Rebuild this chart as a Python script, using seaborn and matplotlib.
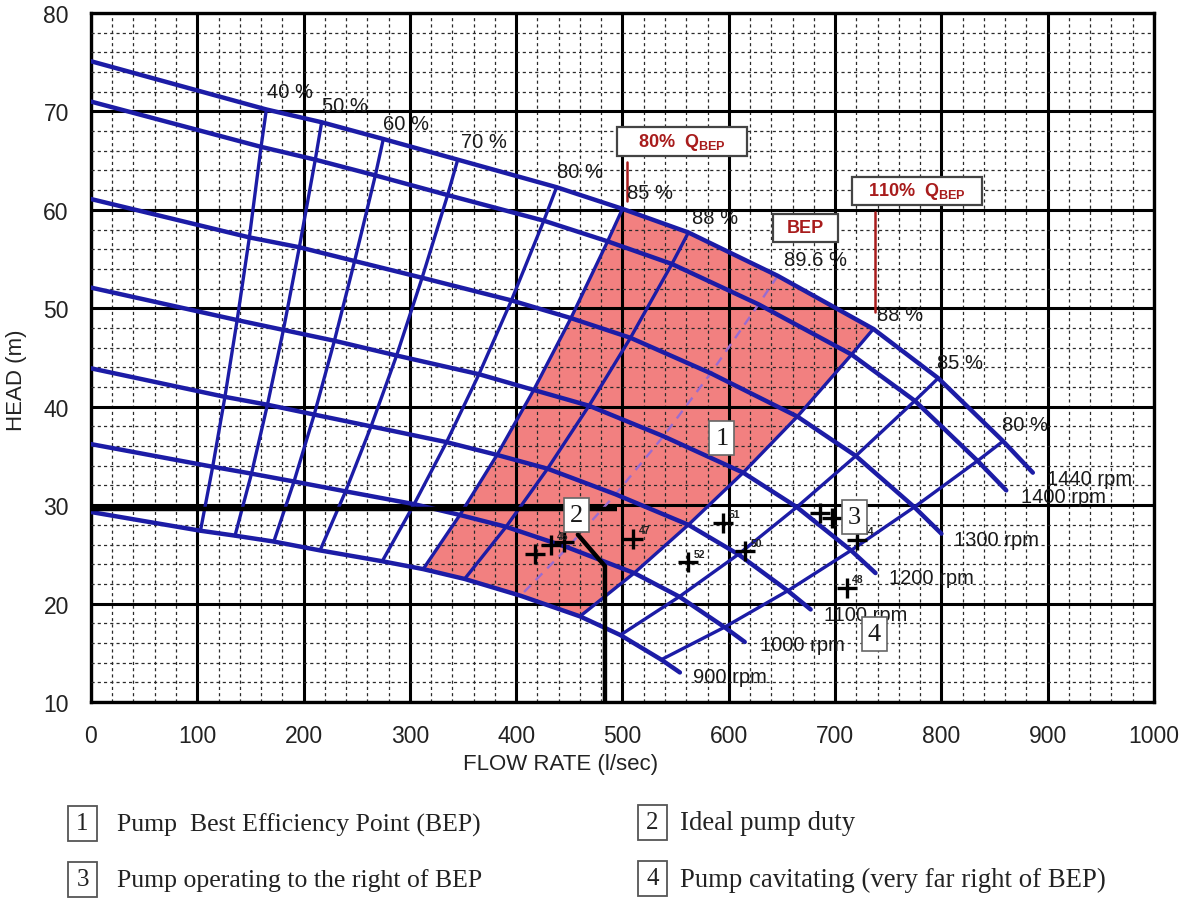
import numpy as np
import pandas as pd
import matplotlib
matplotlib.use("Agg")
import matplotlib.pyplot as plt
from matplotlib.patches import Rectangle
import seaborn as sns

# ---------------- data ----------------
speeds = [1440, 1400, 1300, 1200, 1100, 1000, 900]
shutoff_h = [75.1, 71.0, 61.1, 52.1, 43.9, 36.2, 29.3]
end_q = [886, 861, 800, 738, 677, 615, 554]
end_h = [33.3, 31.5, 27.1, 23.1, 19.4, 16.1, 13.0]

eff_names = ['40 %', '50 %', '60 %', '70 %', '80 %', '85 %', '88 %',
             '89.6 %', '88 %', '85 %', '80 %']
# flow at the crossing of each efficiency line with each speed curve (1440 -> 900 rpm)
iso_q = [
    [165, 160, 149, 137.5, 126, 114.5, 103],
    [217, 211, 196, 181, 166, 151, 135.5],
    [275, 267.5, 248, 229, 210, 191, 172],
    [345, 335.5, 311.5, 287.5, 263.5, 239.5, 215.5],
    [438, 426, 395.5, 365, 334.5, 304, 274],
    [500, 486, 451.5, 416.5, 382, 347, 312.5],
    [562, 546.5, 507.5, 468.5, 429.5, 390.5, 351.5],
    [646, 628, 583, 538.5, 493.5, 448.5, 404],
    [736, 715.5, 664.5, 613.5, 562, 511, 460],
    [797, 775, 719.5, 664, 609, 553.5, 498],
    [858, 834, 774.5, 715, 655.5, 596, 536.5],
]
iso_h = [
    [70.2, 66.4, 57.2, 48.8, 41.0, 33.9, 27.4],
    [68.9, 65.1, 56.2, 47.8, 40.2, 33.2, 26.9],
    [67.2, 63.5, 54.8, 46.7, 39.2, 32.4, 26.3],
    [65.1, 61.5, 53.1, 45.2, 38.0, 31.4, 25.4],
    [62.3, 58.9, 50.8, 43.3, 36.4, 30.1, 24.3],
    [60.1, 56.8, 49.0, 41.7, 35.1, 29.0, 23.5],
    [57.7, 54.5, 47.0, 40.1, 33.7, 27.8, 22.5],
    [53.3, 50.4, 43.4, 37.0, 31.1, 25.7, 20.8],
    [47.9, 45.3, 39.0, 33.3, 28.0, 23.1, 18.7],
    [42.9, 40.6, 35.0, 29.8, 25.0, 20.7, 16.8],
    [36.5, 34.5, 29.8, 25.4, 21.3, 17.6, 14.3],
]
# efficiency label anchors
eff_lab_q = [166, 217, 275, 348, 438, 504, 565, 652, 739, 796, 857]
eff_lab_h = [72.0, 70.6, 68.8, 66.9, 63.9, 61.8, 59.2, 55.0, 49.4, 44.5, 38.2]
rpm_labels = ['1440 rpm', '1400 rpm', '1300 rpm', '1200 rpm', '1100 rpm', '1000 rpm', '900 rpm']
rpm_lab_q = [899, 875, 812, 751, 690, 629, 566]
rpm_lab_h = [32.7, 30.9, 26.5, 22.6, 18.9, 15.8, 12.6]

# measured operating points
pt_q = [418, 433, 445, 510, 562, 595, 615, 686, 697, 721, 711]
pt_h = [25.0, 26.0, 26.3, 26.6, 24.2, 28.2, 25.3, 29.2, 28.7, 26.5, 21.6]
pt_lab = ['', '45', '', '47', '52', '51', '50', '', '', '44', '48']

# ideal duty lines
duty_hq = [0, 495]
duty_hh = [29.6, 29.6]
duty_vq = [458, 483.5, 483.5]
duty_vh = [27.0, 23.8, 10.0]

# Q_BEP markers
q80_bep = 504
q80_h = [60.9, 64.9]
q110_bep = 737.5
q110_h = [49.6, 59.8]

box_labels = ['1', '2', '3', '4']
box_q = [593.5, 457, 718, 737]
box_h = [36.8, 29.0, 28.8, 16.9]

legend_texts = ['Pump  Best Efficiency Point (BEP)', 'Ideal pump duty',
                'Pump operating to the right of BEP',
                'Pump cavitating (very far right of BEP)']

# ---------------- style ----------------
sns.set_style("white")
plt.rcParams['font.family'] = ['Liberation Sans', 'DejaVu Sans']
plt.rcParams['mathtext.fontset'] = 'custom'
plt.rcParams['mathtext.rm'] = 'Liberation Sans:bold'
plt.rcParams['mathtext.bf'] = 'Liberation Sans:bold'

BLUE = '#1c1ca6'
DARKRED = '#a81c1c'
TXT = '#1a1a1a'

fig = plt.figure(figsize=(11.83, 9.03), dpi=100)
ax = fig.add_axes([0.0769, 0.2215, 0.8986, 0.763])

# speed curves (long-form data)
rows = []
for j, n in enumerate(speeds):
    qs = [0] + [iso_q[i][j] for i in range(len(iso_q))] + [end_q[j]]
    hs = [shutoff_h[j]] + [iso_h[i][j] for i in range(len(iso_h))] + [end_h[j]]
    for k, (q, h) in enumerate(zip(qs, hs)):
        rows.append(dict(rpm=n, order=k, Q=q, H=h))
df_speed = pd.DataFrame(rows)

rows = []
for i in range(len(iso_q)):
    for j in range(len(speeds)):
        rows.append(dict(line=i, Q=iso_q[i][j], H=iso_h[i][j]))
df_iso = pd.DataFrame(rows)

# red BEP region: between 85% (left) and 88% (right) lines
poly = []
for j in reversed(range(len(speeds))):
    poly.append((iso_q[5][j], iso_h[5][j]))
for i in (6, 7):
    poly.append((iso_q[i][0], iso_h[i][0]))
for j in range(len(speeds)):
    poly.append((iso_q[8][j], iso_h[8][j]))
for i in (7, 6):
    poly.append((iso_q[i][-1], iso_h[i][-1]))
pq, ph = zip(*poly)
ax.fill(pq, ph, color='#f06a6a', alpha=0.85, zorder=1, lw=0)

sns.lineplot(data=df_iso[df_iso.line != 7], x='Q', y='H', units='line',
             estimator=None, sort=False, color=BLUE, linewidth=2.4,
             ax=ax, legend=False, zorder=3)
sns.lineplot(data=df_iso[df_iso.line == 7], x='Q', y='H', units='line',
             estimator=None, sort=False, color='#9a6cd0', linewidth=1.7,
             linestyle=(0, (4, 3)), ax=ax, legend=False, zorder=3)
sns.lineplot(data=df_speed, x='Q', y='H', units='rpm', estimator=None,
             sort=False, color=BLUE, linewidth=3.2, ax=ax, legend=False, zorder=4)

# duty lines
ax.plot(duty_hq, duty_hh, color='black', lw=3.2, zorder=5, solid_capstyle='butt')
ax.plot(duty_vq, duty_vh, color='black', lw=3.2, zorder=5, solid_joinstyle='miter')

# Q_BEP red markers
ax.plot([q80_bep, q80_bep], q80_h, color=DARKRED, lw=1.8, zorder=5)
ax.plot([q110_bep, q110_bep], q110_h, color=DARKRED, lw=1.8, zorder=5)

# operating points
ax.plot(pt_q, pt_h, linestyle='none', marker='+', markersize=14, mew=2.4,
        color='black', zorder=6)
for q, h, t in zip(pt_q, pt_h, pt_lab):
    if t:
        ax.annotate(t, (q, h), xytext=(4, 4), textcoords='offset points',
                    fontsize=7.5, fontweight='bold', color='#222222', zorder=6)

# labels
for q, h, t in zip(eff_lab_q, eff_lab_h, eff_names):
    ax.text(q, h, t, fontsize=14.5, ha='left', va='center', color=TXT, zorder=6)
for q, h, t in zip(rpm_lab_q, rpm_lab_h, rpm_labels):
    ax.text(q, h, t, fontsize=14.5, ha='left', va='center', color=TXT, zorder=6)

for q, h, t in zip(box_q, box_h, box_labels):
    ax.text(q, h, t, fontsize=19, family='Liberation Serif', ha='center', va='center',
            color=TXT, zorder=7,
            bbox=dict(boxstyle='square,pad=0.22', fc='white', ec='#666666', lw=1.2))

# annotation boxes (axes fractions)
def anno_box(x0, y0, w, h, txt):
    ax.add_patch(Rectangle((x0, y0), w, h, transform=ax.transAxes, fc='white',
                           ec='#444444', lw=1.6, zorder=7))
    ax.text(x0 + w / 2, y0 + h / 2, txt, transform=ax.transAxes, ha='center', va='center',
            fontsize=13, fontweight='bold', color=DARKRED, zorder=8)

anno_box(0.4948, 0.7925, 0.1223, 0.0421, r'80%  Q$_{\rm BEP}$')
anno_box(0.7159, 0.7213, 0.1223, 0.0407, r'110%  Q$_{\rm BEP}$')
anno_box(0.6416, 0.6676, 0.0611, 0.0407, 'BEP')

# axes, grid
ax.set_xlim(0, 1000)
ax.set_ylim(10, 80)
ax.set_xticks(np.arange(0, 1001, 100))
ax.set_yticks(np.arange(10, 81, 10))
ax.set_xticks(np.arange(0, 1001, 20), minor=True)
ax.set_yticks(np.arange(10, 81, 2), minor=True)
ax.grid(which='major', color='black', lw=2.2, zorder=2)
ax.grid(which='minor', color='#2a2a2a', lw=0.9, linestyle=(0, (2.5, 2.5)), zorder=2)
ax.set_axisbelow(False)
for gl in ax.get_xgridlines() + ax.get_ygridlines():
    gl.set_zorder(2)
ax.tick_params(which='major', direction='out', length=10, width=2, color='black',
               labelsize=16.5, labelcolor='#222222', pad=6)
ax.tick_params(which='minor', length=0)
for s in ax.spines.values():
    s.set_color('black')
    s.set_linewidth(2.4)
ax.set_xlabel('FLOW RATE (l/sec)', fontsize=16, color='#222222')
ax.set_ylabel('HEAD (m)', fontsize=16, color='#222222')
ax.xaxis.set_label_coords(0.442, -0.074)
ax.yaxis.set_label_coords(-0.060, 0.469)

# legend below
W, H = 1183.0, 903.0
leg_boxes = [(68, 807, 117, 825), (638, 806, 680, 823), (68, 863, 117, 881), (638, 862, 680, 880)]
leg_sizes = [18.5, 19.3, 18.5, 19.3]
for (bx, by, tx, ty), num, txt, fs in zip(leg_boxes, box_labels, legend_texts, leg_sizes):
    fig.patches.append(Rectangle((bx / W, 1 - (by + 35) / H), 29 / W, 35 / H,
                                 transform=fig.transFigure, fc='white', ec='#555555', lw=1.3))
    fig.text((bx + 14.5) / W, 1 - (by + 17.5) / H, num, family='Liberation Serif',
             fontsize=18, ha='center', va='center', color='#222222')
    fig.text(tx / W, 1 - ty / H, txt, family='Liberation Serif', fontsize=fs,
             ha='left', va='center', color='#222222')

fig.savefig('out.png', dpi=100)
